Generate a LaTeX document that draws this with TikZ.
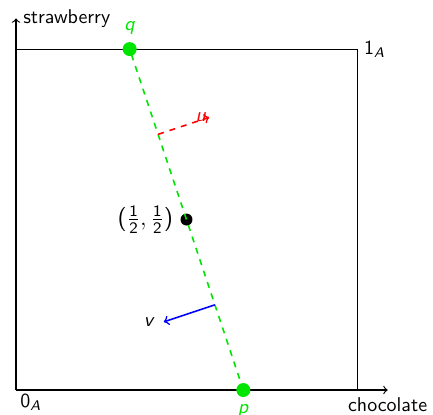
\documentclass[tikz,border=0pt]{standalone}
\usepackage{amsmath}
\usetikzlibrary{positioning,calc}
\renewcommand{\familydefault}{\sfdefault}
\newcommand{\sv}[1]{\textsf{\textit{#1}}}

\begin{document}
\begin{tikzpicture}[x=6cm,y=6cm,
    dot/.style={circle,fill,inner sep=0pt,minimum size=7pt},
    vecline/.style={thick,->}]
        \useasboundingbox (-0.047,-0.073) rectangle (1.223,1.144);
        % axes and the unit box
        \coordinate (O) at (0,0);
        \coordinate (xtip) at (1.09,0);
        \coordinate (ytip) at (0,1.09);
        \draw[semithick,->] (O) -- (xtip) node[below] {chocolate};
        \draw[semithick,->] (O) -- (ytip) node[right] {strawberry};
        \draw (0,1) -- (1,1) -- (1,0);
        \node[below right,inner sep=2pt] at (O) {0$_{\sv{A}}$};
        \node[right] at (1,1) {1$_{\sv{A}}$};
        % the line through p and q
        \coordinate (P) at (2/3,0);
        \coordinate (Q) at (1/3,1);
        \node[dot,minimum size=6pt] (mid) at (0.5,0.5) {};
        \node[left=0pt of mid,font=\large] (midlbl) {$\textsf{(}\frac{\textsf{1}}{\textsf{2}},\frac{\textsf{1}}{\textsf{2}}\textsf{)}$};
        \draw[green!90!black,thick,dashed] (P) -- (Q);
        \node[dot,green!90!black] (p) at (P) {};
        \node[dot,green!90!black] (q) at (Q) {};
        \node[green!90!black,below=0pt of p] (plbl) {\sv{p}};
        \node[green!90!black,above=0pt of q] (qlbl) {\sv{q}};
        % u and v
        \coordinate (ua) at ($(P)!0.75!(Q)$);
        \coordinate (ub) at ($(ua)+(0.15,0.05)$);
        \coordinate (va) at ($(P)!0.25!(Q)$);
        \coordinate (vb) at ($(va)-(0.15,0.05)$);
        \draw[vecline,red,dashed] (ua) -- (ub);
        \node[red,left=-2pt of ub] (ulbl) {\sv{u}};
        \draw[vecline,blue] (va) -- (vb);
        \node[left=1pt of vb] (vlbl) {\sv{v}};
    \end{tikzpicture}
\end{document}
